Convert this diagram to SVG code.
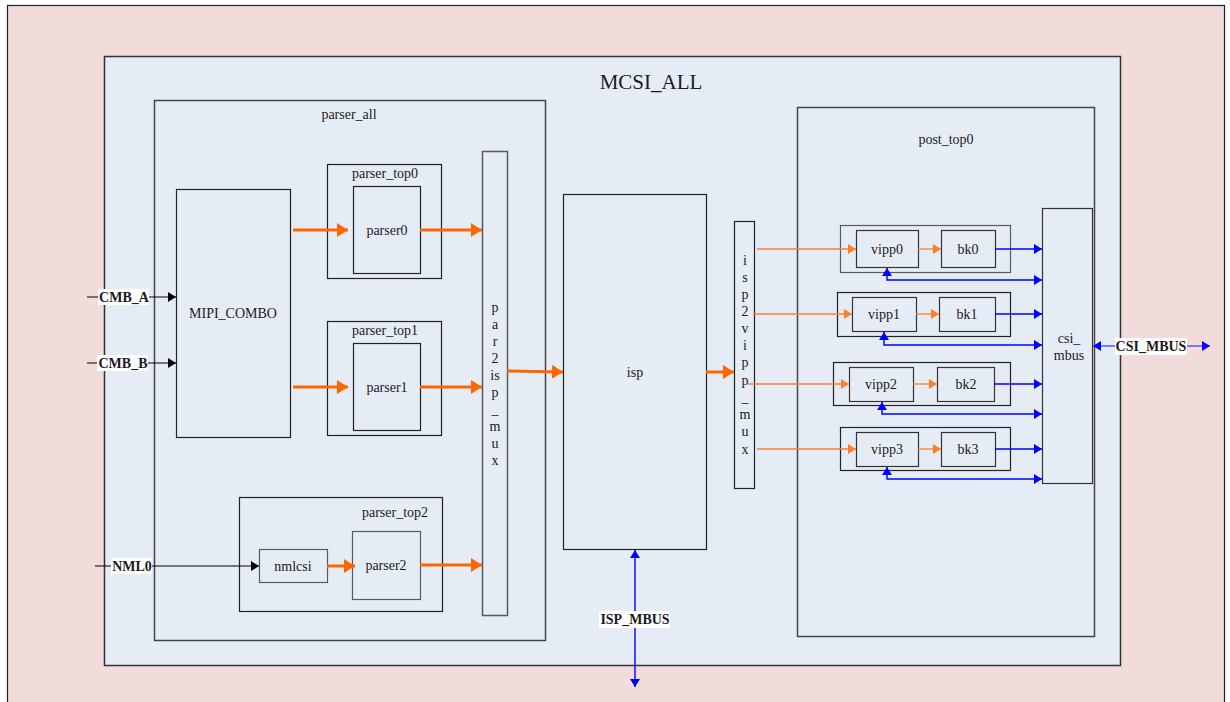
<svg xmlns="http://www.w3.org/2000/svg" width="1230" height="702" viewBox="0 0 1230 702" font-family="'Liberation Serif', 'Times New Roman', 'DejaVu Serif', serif">
<style>
text{font-family:'Liberation Serif','Times New Roman','DejaVu Serif',serif;fill:#1a1a1a}
.t{font-size:14px;text-anchor:middle}
.b{font-size:14px;font-weight:bold;text-anchor:middle}
.box{fill:#E6ECF6;stroke:#222;stroke-width:1.2}
.gbox{fill:#E6ECF6;stroke:#5a5a5a;stroke-width:1.5}
.thick{stroke:#FF6600;stroke-width:3;fill:none}
.thin{stroke:#FF7F27;stroke-width:1.3;fill:none}
.blue{stroke:#0000FF;stroke-width:1.4;fill:none}
.blk{stroke:#000;stroke-width:1.2;fill:none}
</style>
<defs>
<marker id="ao" markerUnits="userSpaceOnUse" markerWidth="12" markerHeight="14" refX="11" refY="7" orient="auto"><path d="M0,0 L11,7 L0,14 z" fill="#FF6600"/></marker>
<marker id="aos" markerUnits="userSpaceOnUse" markerWidth="9" markerHeight="10" refX="8" refY="5" orient="auto"><path d="M0,0 L8,5 L0,10 z" fill="#FF7F27"/></marker>
<marker id="ab" markerUnits="userSpaceOnUse" markerWidth="9" markerHeight="10" refX="8" refY="5" orient="auto"><path d="M0,0 L8,5 L0,10 z" fill="#0000FF"/></marker>
<marker id="abs" markerUnits="userSpaceOnUse" markerWidth="9" markerHeight="10" refX="8" refY="5" orient="auto-start-reverse"><path d="M0,0 L8,5 L0,10 z" fill="#0000FF"/></marker>
<marker id="ak" markerUnits="userSpaceOnUse" markerWidth="9" markerHeight="10" refX="8" refY="5" orient="auto"><path d="M0,0 L8,5 L0,10 z" fill="#000"/></marker>
</defs>
<rect x="0" y="0" width="1230" height="702" fill="#fff"/>
<rect id="bg" x="7.5" y="5.5" width="1217" height="710" fill="#F2DCDB" stroke="#222" stroke-width="1.2"/>

<g id="mcsi_all"><rect class="box" x="104.5" y="56.5" width="1016" height="609" style="stroke:#333;stroke-width:1.5"/><text x="651" y="89" style="font-size:21px;text-anchor:middle">MCSI_ALL</text></g>
<g id="parser_all"><rect class="gbox" x="154.5" y="100.5" width="391" height="540" style="stroke:#444"/><text class="t" x="349" y="119">parser_all</text></g>
<g id="post_top0"><rect class="gbox" x="797.5" y="107.5" width="297" height="529" style="stroke:#444"/><text class="t" x="946" y="144">post_top0</text></g>

<g id="mipi_combo"><rect class="box" x="176.5" y="189.5" width="114" height="248"/><text class="t" x="233" y="318">MIPI_COMBO</text></g>
<g id="parser_top0"><rect class="box" x="327.5" y="164.5" width="114" height="114"/><text class="t" x="385" y="178">parser_top0</text></g>
<g id="parser0"><rect class="box" x="353.5" y="186.5" width="67" height="87"/><text class="t" x="387" y="235">parser0</text></g>
<g id="parser_top1"><rect class="box" x="327.5" y="321.5" width="114" height="114"/><text class="t" x="385" y="335">parser_top1</text></g>
<g id="parser1"><rect class="box" x="353.5" y="343.5" width="67" height="87"/><text class="t" x="387" y="392">parser1</text></g>
<g id="parser_top2"><rect class="box" x="239.5" y="497.5" width="203" height="114"/><text class="t" x="395" y="517">parser_top2</text></g>
<g id="nmlcsi"><rect class="gbox" x="259.5" y="549.5" width="68" height="33" style="stroke-width:1.2"/><text class="t" x="293" y="571">nmlcsi</text></g>
<g id="parser2"><rect class="gbox" x="352.5" y="531.5" width="68" height="68" style="stroke-width:1.2"/><text class="t" x="386" y="570">parser2</text></g>

<g id="par2isp_mux"><rect class="gbox" x="482.5" y="151.5" width="25" height="464"/>
<text class="t" x="495"><tspan x="495" y="312">p</tspan><tspan x="495" y="329">a</tspan><tspan x="495" y="346">r</tspan><tspan x="495" y="363">2</tspan><tspan x="495" y="380">is</tspan><tspan x="495" y="397">p</tspan><tspan x="495" y="414">_</tspan><tspan x="495" y="431">m</tspan><tspan x="495" y="448">u</tspan><tspan x="495" y="465">x</tspan></text></g>
<g id="isp"><rect class="box" x="563.5" y="194.5" width="143" height="355"/><text class="t" x="635" y="377">isp</text></g>
<g id="isp2vipp_mux"><rect class="box" x="734.5" y="221.5" width="20" height="267"/>
<text class="t" x="745"><tspan x="745" y="265">i</tspan><tspan x="745" y="282">s</tspan><tspan x="745" y="299">p</tspan><tspan x="745" y="316">2</tspan><tspan x="745" y="333">v</tspan><tspan x="745" y="350">i</tspan><tspan x="745" y="367">p</tspan><tspan x="745" y="385">p</tspan><tspan x="745" y="402">_</tspan><tspan x="745" y="419">m</tspan><tspan x="745" y="436">u</tspan><tspan x="745" y="454">x</tspan></text></g>
<g id="csi_mbus"><rect class="gbox" x="1042.5" y="208.5" width="50" height="275" style="stroke:#333;stroke-width:1.2"/><text class="t" x="1069" y="343">csi_</text><text class="t" x="1069" y="360">mbus</text></g>

<g id="vgrp0"><rect class="gbox" x="840.5" y="225.5" width="170" height="47" style="stroke-width:1.2"/></g>
<g id="vipp0"><rect class="gbox" x="856.5" y="230.5" width="62" height="37" style="stroke:#333;stroke-width:1.2"/><text class="t" x="887" y="254">vipp0</text></g>
<g id="bk0"><rect class="gbox" x="941.5" y="230.5" width="54" height="37" style="stroke:#333;stroke-width:1.2"/><text class="t" x="968" y="254">bk0</text></g>
<g id="vgrp1"><rect class="box" x="837.5" y="292.5" width="173" height="44"/></g>
<g id="vipp1"><rect class="gbox" x="852.5" y="297.5" width="64" height="34" style="stroke:#333;stroke-width:1.2"/><text class="t" x="884" y="319">vipp1</text></g>
<g id="bk1"><rect class="gbox" x="939.5" y="297.5" width="56" height="34" style="stroke:#333;stroke-width:1.2"/><text class="t" x="967" y="319">bk1</text></g>
<g id="vgrp2"><rect class="box" x="833.5" y="362.5" width="177" height="43"/></g>
<g id="vipp2"><rect class="gbox" x="849.5" y="367.5" width="64" height="34" style="stroke:#333;stroke-width:1.2"/><text class="t" x="881" y="389">vipp2</text></g>
<g id="bk2"><rect class="gbox" x="937.5" y="367.5" width="57" height="34" style="stroke:#333;stroke-width:1.2"/><text class="t" x="966" y="389">bk2</text></g>
<g id="vgrp3"><rect class="gbox" x="840.5" y="427.5" width="170" height="43" style="stroke:#222;stroke-width:1.2"/></g>
<g id="vipp3"><rect class="gbox" x="856.5" y="432.5" width="62" height="34" style="stroke:#333;stroke-width:1.2"/><text class="t" x="887" y="454">vipp3</text></g>
<g id="bk3"><rect class="gbox" x="941.5" y="432.5" width="54" height="34" style="stroke:#333;stroke-width:1.2"/><text class="t" x="968" y="454">bk3</text></g>

<g id="connectors">
<line class="thick" x1="293" y1="230" x2="348" y2="230" marker-end="url(#ao)"/>
<line class="thick" x1="420" y1="230" x2="482" y2="230" marker-end="url(#ao)"/>
<line class="thick" x1="293" y1="387" x2="348" y2="387" marker-end="url(#ao)"/>
<line class="thick" x1="420" y1="387" x2="482" y2="387" marker-end="url(#ao)"/>
<line class="thick" x1="327" y1="566" x2="355" y2="566" marker-end="url(#ao)"/>
<line class="thick" x1="420" y1="565" x2="482" y2="565" marker-end="url(#ao)"/>
<line class="thick" x1="507" y1="371" x2="563" y2="372" marker-end="url(#ao)"/>
<line class="thick" x1="706" y1="372" x2="734" y2="372" marker-end="url(#ao)"/>

<line class="thin" x1="757" y1="249" x2="856" y2="249" marker-end="url(#aos)"/>
<line class="thin" x1="918" y1="249" x2="941" y2="249" marker-end="url(#aos)"/>
<line class="thin" x1="753" y1="314" x2="852" y2="314" marker-end="url(#aos)"/>
<line class="thin" x1="916" y1="314" x2="939" y2="314" marker-end="url(#aos)"/>
<line class="thin" x1="748" y1="384" x2="849" y2="384" marker-end="url(#aos)"/>
<line class="thin" x1="913" y1="384" x2="937" y2="384" marker-end="url(#aos)"/>
<line class="thin" x1="757" y1="449" x2="856" y2="449" marker-end="url(#aos)"/>
<line class="thin" x1="918" y1="449" x2="941" y2="449" marker-end="url(#aos)"/>

<line class="blue" x1="995" y1="249" x2="1042" y2="249" marker-end="url(#ab)"/>
<line class="blue" x1="995" y1="314" x2="1042" y2="314" marker-end="url(#ab)"/>
<line class="blue" x1="994" y1="384" x2="1042" y2="384" marker-end="url(#ab)"/>
<line class="blue" x1="995" y1="449" x2="1042" y2="449" marker-end="url(#ab)"/>
<polyline class="blue" points="887,268 887,280 1042,280" marker-start="url(#abs)" marker-end="url(#ab)"/>
<polyline class="blue" points="884,332 884,345 1042,345" marker-start="url(#abs)" marker-end="url(#ab)"/>
<polyline class="blue" points="882,402 882,414 1042,414" marker-start="url(#abs)" marker-end="url(#ab)"/>
<polyline class="blue" points="887,467 887,479 1042,479" marker-start="url(#abs)" marker-end="url(#ab)"/>

<line class="blue" x1="1093" y1="346" x2="1210" y2="346" style="stroke:#5555ff" marker-start="url(#abs)" marker-end="url(#ab)"/>
<line class="blue" x1="635" y1="550" x2="635" y2="687" marker-start="url(#abs)" marker-end="url(#ab)"/>

<line class="blk" x1="87" y1="297" x2="176" y2="297" marker-end="url(#ak)"/>
<line class="blk" x1="87" y1="363" x2="176" y2="363" marker-end="url(#ak)"/>
<line class="blk" x1="95" y1="566" x2="259" y2="566" marker-end="url(#ak)"/>
</g>

<g id="labels">
<rect x="98" y="289" width="51" height="16" fill="#fff"/><text class="b" x="124" y="302">CMB_A</text>
<rect x="97" y="355" width="51" height="16" fill="#fff"/><text class="b" x="123" y="368">CMB_B</text>
<rect x="111" y="558" width="41" height="16" fill="#fff"/><text class="b" x="132" y="571">NML0</text>
<rect x="1115" y="338" width="72" height="17" fill="#fff"/><text class="b" x="1151" y="351">CSI_MBUS</text>
<rect x="599" y="611" width="71" height="17" fill="#fff"/><text class="b" x="635" y="624">ISP_MBUS</text>
</g>
</svg>
